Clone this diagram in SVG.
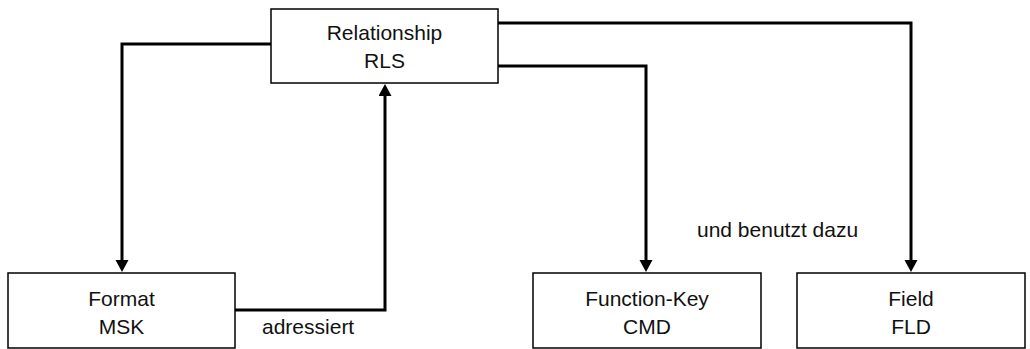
<svg xmlns="http://www.w3.org/2000/svg" width="1030" height="349" viewBox="0 0 1030 349">
  <style>
    .box { fill: #ffffff; stroke: #000000; stroke-width: 1.5; }
    .lbl { font-family: "Liberation Sans", Arial, sans-serif; font-size: 21px; fill: #111111; text-anchor: middle; }
    .note { font-family: "Liberation Sans", Arial, sans-serif; font-size: 21px; fill: #111111; }
    .wire { fill: none; stroke: #000000; stroke-width: 3; stroke-linejoin: miter; }
  </style>
  <defs>
    <marker id="head" markerUnits="userSpaceOnUse" markerWidth="14" markerHeight="14" refX="2" refY="6.5" orient="auto">
      <path d="M0,0 L12,6.5 L0,13 z" fill="#000000"/>
    </marker>
  </defs>
  <rect width="1030" height="349" fill="#ffffff"/>

  <!-- connectors -->
  <g id="connectors">
    <path class="wire" d="M271,44 H122 V262" marker-end="url(#head)"/>
    <path class="wire" d="M235,310 H385 V94" marker-end="url(#head)"/>
    <path class="wire" d="M498,66 H646 V262" marker-end="url(#head)"/>
    <path class="wire" d="M498,23 H911 V262" marker-end="url(#head)"/>
    <text class="note" x="262" y="334">adressiert</text>
    <text class="note" x="697" y="237">und benutzt dazu</text>
  </g>

  <!-- nodes -->
  <g id="rls">
    <rect class="box" x="271" y="9" width="227" height="74"/>
    <text class="lbl" x="384.5" y="40">Relationship</text>
    <text class="lbl" x="384.5" y="68">RLS</text>
  </g>
  <g id="msk">
    <rect class="box" x="8" y="273" width="227" height="75"/>
    <text class="lbl" x="121.5" y="306">Format</text>
    <text class="lbl" x="121.5" y="334">MSK</text>
  </g>
  <g id="cmd">
    <rect class="box" x="533" y="273" width="228" height="75"/>
    <text class="lbl" x="647" y="306">Function-Key</text>
    <text class="lbl" x="647" y="334">CMD</text>
  </g>
  <g id="fld">
    <rect class="box" x="797" y="273" width="228" height="75"/>
    <text class="lbl" x="911" y="306">Field</text>
    <text class="lbl" x="911" y="334">FLD</text>
  </g>
</svg>
